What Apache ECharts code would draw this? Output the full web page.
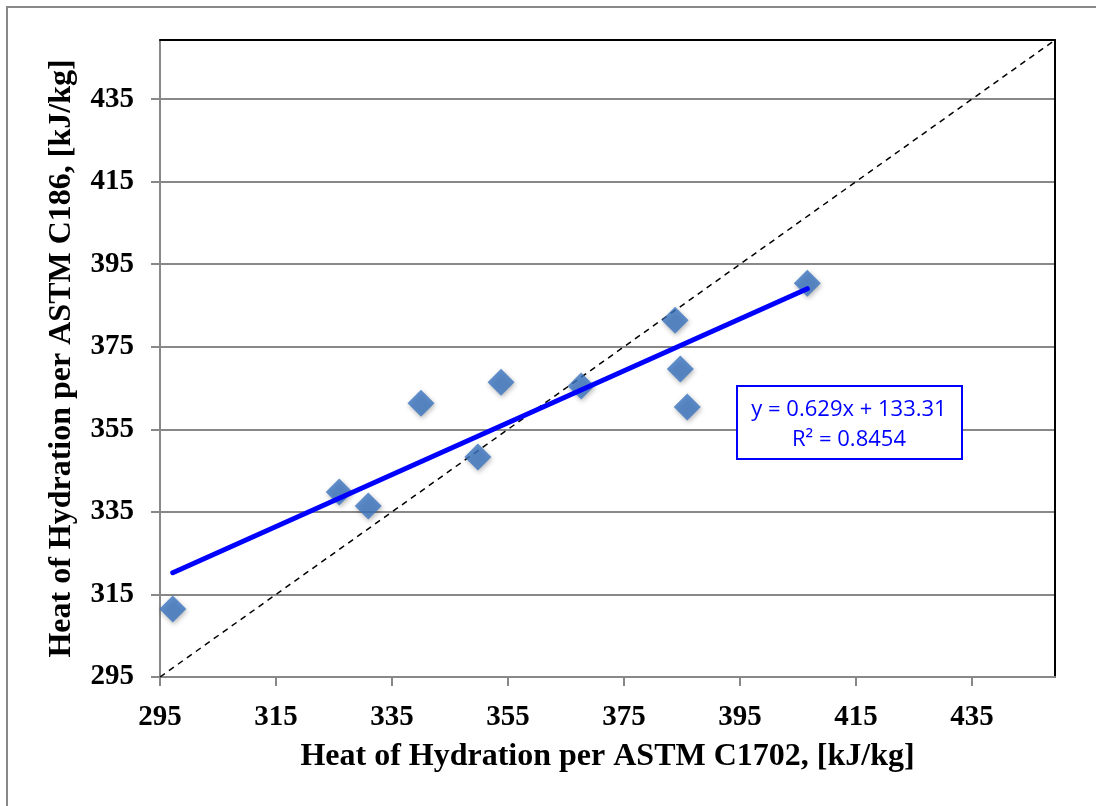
<!DOCTYPE html>
<html><head><meta charset="utf-8">
<script src="https://cdn.jsdelivr.net/npm/echarts@6/dist/echarts.min.js"></script>
<style>html,body{margin:0;padding:0;background:#fff}#c{width:1096px;height:806px}</style>
</head><body><div id="c"></div>
<script>
// Data
const c1702 = [297.2, 325.9, 330.9, 340.0, 349.8, 353.8, 367.6, 383.8, 384.7, 385.9, 406.6];
const c186  = [311.5, 339.8, 336.4, 361.3, 348.3, 366.4, 365.5, 381.4, 369.6, 360.4, 390.4];
const tickValues = [295, 315, 335, 355, 375, 395, 415, 435];
const axisMin = 295, axisMax = 449.3;
const slope = 0.629, intercept = 133.31;
const eqText = 'y = 0.629x + 133.31';
const r2Text = 'R² = 0.8454';
const xTitle = 'Heat of Hydration per ASTM C1702, [kJ/kg]';
const yTitle = 'Heat of Hydration per ASTM C186, [kJ/kg]';

const points = c1702.map((x, i) => [x, c186[i]]);
const xs0 = Math.min(...c1702), xs1 = Math.max(...c1702);
const trend = [[xs0, slope * xs0 + intercept], [xs1, slope * xs1 + intercept]];
const diag = [[axisMin, axisMin], [axisMax, axisMax]];

const font = '"Liberation Serif", "Times New Roman", serif';
const labelStyle = { fontFamily: font, fontWeight: 'bold', fontSize: 29, color: '#000' };

const chart = echarts.init(document.getElementById('c'), null, { renderer: 'canvas' });
chart.setOption({
  backgroundColor: '#fff',
  animation: false,
  grid: { left: 160, right: 41, top: 40, bottom: 129, containLabel: false },
  xAxis: [{
    type: 'value', min: axisMin, max: axisMax, interval: 20,
    name: xTitle, nameLocation: 'middle', nameGap: 64,
    nameTextStyle: Object.assign({}, labelStyle, { fontSize: 32 }),
    axisLine: { show: true, lineStyle: { color: '#888', width: 2 } },
    axisTick: { show: true, length: 9, lineStyle: { color: '#888', width: 2 }, customValues: tickValues },
    axisLabel: Object.assign({ margin: 26, customValues: tickValues }, labelStyle),
    splitLine: { show: false }
  }, {
    type: 'value', min: axisMin, max: axisMax, position: 'top',
    axisLine: { show: true, onZero: false, lineStyle: { color: '#000', width: 2 } },
    axisTick: { show: false }, axisLabel: { show: false }, splitLine: { show: false }
  }],
  yAxis: [{
    type: 'value', min: axisMin, max: axisMax, interval: 20,
    name: yTitle, nameLocation: 'middle', nameGap: 82,
    nameTextStyle: Object.assign({}, labelStyle, { fontSize: 32 }),
    axisLine: { show: true, lineStyle: { color: '#888', width: 2 } },
    axisTick: { show: true, length: 9, lineStyle: { color: '#888', width: 2 }, customValues: tickValues },
    axisLabel: Object.assign({ margin: 26, customValues: tickValues }, labelStyle),
    splitLine: { show: true, lineStyle: { color: '#888', width: 2 } }
  }, {
    type: 'value', min: axisMin, max: axisMax, position: 'right',
    axisLine: { show: true, onZero: false, lineStyle: { color: '#000', width: 2 } },
    axisTick: { show: false }, axisLabel: { show: false }, splitLine: { show: false }
  }],
  series: [{
    type: 'line', data: diag, symbol: 'none', silent: true, z: 3,
    lineStyle: { color: '#000', width: 1.5, type: [6, 5] }
  }, {
    type: 'scatter', data: points, symbol: 'diamond', symbolSize: 27, z: 4,
    itemStyle: { color: '#3a74bf', shadowColor: 'rgba(0,0,0,0.35)', shadowBlur: 5, shadowOffsetX: 1, shadowOffsetY: 2 }
  }, {
    type: 'line', data: trend, symbol: 'none', z: 5,
    lineStyle: { color: '#0000ff', width: 5, cap: 'round' }
  }],
  graphic: [{
    type: 'rect', shape: { x: 7, y: 7, width: 1100, height: 820 },
    style: { fill: 'none', stroke: '#888', lineWidth: 2 }, silent: true
  }, {
    type: 'rect', shape: { x: 737, y: 386, width: 225, height: 73 },
    style: { fill: '#fff', stroke: '#0000ff', lineWidth: 2 }, z: 10
  }, {
    type: 'text', x: 849, y: 410, z: 11,
    style: { text: eqText, fill: '#0000ff', font: '22px "Open Sans", "Noto Sans", sans-serif', align: 'center', verticalAlign: 'middle' }
  }, {
    type: 'text', x: 849, y: 440, z: 11,
    style: { text: r2Text, fill: '#0000ff', font: '22px "Open Sans", "Noto Sans", sans-serif', align: 'center', verticalAlign: 'middle' }
  }]
});
</script></body></html>
